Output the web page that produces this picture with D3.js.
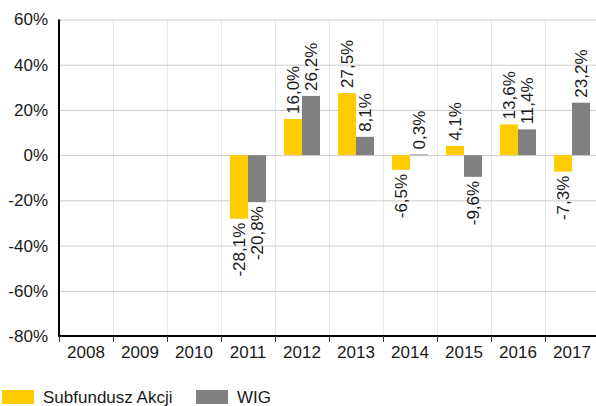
<!DOCTYPE html>
<html>
<head>
<meta charset="utf-8">
<script src="https://cdn.jsdelivr.net/npm/d3@7"></script>
<style>
  body { margin: 0; background: #fff; }
  svg { display: block; font-family: "Liberation Sans", Arial, sans-serif; }
  text { fill: #1a1a1a; }
</style>
</head>
<body>
<svg id="chart" width="596" height="406"></svg>
<script>
// data
var years = ['2008', '2009', '2010', '2011', '2012', '2013', '2014', '2015', '2016', '2017'];
var fundValues = [null, null, null, -28.1, 16.0, 27.5, -6.5, 4.1, 13.6, -7.3];
var wigValues = [null, null, null, -20.8, 26.2, 8.1, 0.3, -9.6, 11.4, 23.2];
var seriesNames = ['Subfundusz Akcji', 'WIG'];
var yTicks = [-80, -60, -40, -20, 0, 20, 40, 60];

var colors = ['#ffcc00', '#808080'];

var svg = d3.select('#chart');
// note: "top" is taken by window.top, so prefix everything
var plotLeft = 59, plotRight = 599, plotTop = 19.5, plotBottom = 336;

var x = d3.scaleBand().domain(years).range([plotLeft, plotRight]).padding(0);
var x1 = d3.scaleBand().domain([0, 1]).range([0, x.bandwidth()]).paddingInner(0).paddingOuter(0.5);
var y = d3.scaleLinear().domain([-80, 60]).range([plotBottom, plotTop]);

// polish decimal comma, plain hyphen for minus
var fmt = v => v.toFixed(1).replace('.', ',') + '%';

// vertical grid
svg.append('g')
  .selectAll('line')
  .data(years.slice(1))
  .enter()
  .append('line')
  .attr('x1', d => Math.round(x(d)) + 0.5)
  .attr('x2', d => Math.round(x(d)) + 0.5)
  .attr('y1', plotTop)
  .attr('y2', plotBottom)
  .attr('stroke', '#e8e8e8');

// y axis with horizontal grid
var yAxis = svg.append('g')
  .attr('transform', 'translate(' + plotLeft + ',0)')
  .call(d3.axisLeft(y).tickValues(yTicks).tickFormat(d => d + '%').tickSize(9).tickPadding(2));
yAxis.select('.domain').remove();
yAxis.selectAll('.tick line')
  .attr('stroke', '#cccccc')
  .attr('x2', plotRight - plotLeft);
yAxis.selectAll('.tick text')
  .attr('font-size', 17)
  .attr('fill', '#1a1a1a')
  .attr('font-family', '"Liberation Sans", Arial, sans-serif');

// bars
var rows = years.map((yr, i) => ({year: yr, vals: [fundValues[i], wigValues[i]]}));

var groups = svg.append('g')
  .selectAll('g')
  .data(rows)
  .enter()
  .append('g')
  .attr('transform', d => 'translate(' + x(d.year) + ',0)');

groups.selectAll('rect')
  .data(d => d.vals.map((v, k) => ({k: k, v: v})).filter(e => e.v !== null))
  .enter()
  .append('rect')
  .attr('x', d => x1(d.k))
  .attr('width', x1.bandwidth())
  .attr('y', d => y(Math.max(0, d.v)))
  .attr('height', d => Math.abs(y(d.v) - y(0)))
  .attr('fill', d => colors[d.k]);

groups.selectAll('text')
  .data(d => d.vals.map((v, k) => ({k: k, v: v})).filter(e => e.v !== null))
  .enter()
  .append('text')
  .attr('transform', d => {
    var cx = x1(d.k) + x1.bandwidth() / 2;
    var cy = d.v >= 0 ? y(d.v) - 5 : y(d.v) + 4;
    return 'translate(' + cx + ',' + cy + ') rotate(-90)';
  })
  .attr('dy', '0.35em')
  .attr('text-anchor', d => d.v >= 0 ? 'start' : 'end')
  .attr('font-size', 17)
  .text(d => fmt(d.v));

// axis lines
svg.append('line')
  .attr('x1', plotLeft).attr('x2', plotLeft)
  .attr('y1', plotTop).attr('y2', plotBottom + 1)
  .attr('stroke', '#000').attr('stroke-width', 2);

svg.append('line')
  .attr('x1', plotLeft - 1).attr('x2', plotRight)
  .attr('y1', plotBottom).attr('y2', plotBottom)
  .attr('stroke', '#000').attr('stroke-width', 2);

// x ticks at category boundaries
svg.append('g')
  .selectAll('line')
  .data(years)
  .enter()
  .append('line')
  .attr('x1', d => Math.round(x(d)) + 0.5)
  .attr('x2', d => Math.round(x(d)) + 0.5)
  .attr('y1', plotBottom)
  .attr('y2', plotBottom + 6)
  .attr('stroke', '#333');

svg.append('g')
  .selectAll('text')
  .data(years)
  .enter()
  .append('text')
  .attr('x', d => x(d) + x.bandwidth() / 2)
  .attr('y', 358)
  .attr('text-anchor', 'middle')
  .attr('font-size', 17)
  .text(d => d);

// legend
var legendX = [2, 196];
var legend = svg.append('g')
  .selectAll('g')
  .data(seriesNames)
  .enter()
  .append('g')
  .attr('transform', (d, i) => 'translate(' + legendX[i] + ',390)');

legend.append('rect')
  .attr('width', 32)
  .attr('height', 14)
  .attr('fill', (d, i) => colors[i]);

legend.append('text')
  .attr('x', 41)
  .attr('y', 13)
  .attr('font-size', 17)
  .text(d => d);
</script>
</body>
</html>
